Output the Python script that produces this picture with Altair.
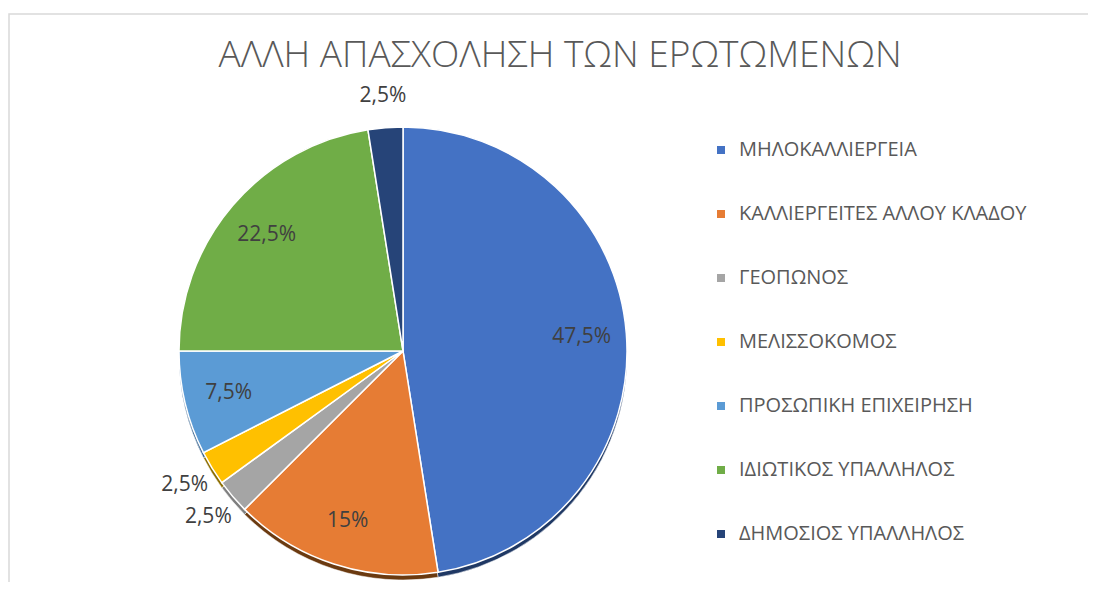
import altair as alt
import pandas as pd

categories = ["ΜΗΛΟΚΑΛΛΙΕΡΓΕΙΑ", "ΚΑΛΛΙΕΡΓΕΙΤΕΣ ΑΛΛΟΥ ΚΛΑΔΟΥ", "ΓΕΟΠΩΝΟΣ",
              "ΜΕΛΙΣΣΟΚΟΜΟΣ", "ΠΡΟΣΩΠΙΚΗ ΕΠΙΧΕΙΡΗΣΗ", "ΙΔΙΩΤΙΚΟΣ ΥΠΑΛΛΗΛΟΣ",
              "ΔΗΜΟΣΙΟΣ ΥΠΑΛΛΗΛΟΣ"]
values = [47.5, 15, 2.5, 2.5, 7.5, 22.5, 2.5]
colors = ["#4472C4", "#E67C34", "#A5A5A5", "#FFC000", "#5B9BD5", "#70AD47", "#264478"]
shadow_colors = ["#1F3864", "#6B3A10", "#7F7F7F", "#8C6D00", "#2E5C8A", "#3F6B26", "#13233F"]
title_text = "ΑΛΛΗ ΑΠΑΣΧΟΛΗΣΗ ΤΩΝ ΕΡΩΤΩΜΕΝΩΝ"

labels = [(f"{v:g}".replace(".", ",") + "%") for v in values]
df = pd.DataFrame({"cat": categories, "value": values, "label": labels,
                   "idx": list(range(len(values)))})

CX, CY, R = 395, 343, 224
FONT = "Open Sans, Noto Sans, sans-serif"

base = alt.Chart(df)

border = alt.Chart(pd.DataFrame({"a": [0]})).mark_rect(
    fill="white", stroke="#D9D9D9", strokeWidth=1.5
).encode(x=alt.value(1), x2=alt.value(1200), y=alt.value(6), y2=alt.value(700))

shadow = base.mark_arc(radius=R, stroke="white", strokeWidth=0.5).encode(
    theta=alt.Theta("value:Q", stack=True),
    order=alt.Order("idx:Q"),
    color=alt.Color("cat:N", scale=alt.Scale(domain=categories, range=shadow_colors), legend=None),
    x=alt.value(CX), y=alt.value(CY + 5),
)

pie = base.mark_arc(radius=R, stroke="white", strokeWidth=1.5).encode(
    theta=alt.Theta("value:Q", stack=True),
    order=alt.Order("idx:Q"),
    color=alt.Color("cat:N", sort=categories,
                    scale=alt.Scale(domain=categories, range=colors),
                    legend=alt.Legend(
                        title=None, orient="none", legendX=703, legendY=132,
                        symbolType="square", symbolSize=64, symbolStrokeWidth=0,
                        labelFontSize=20, labelFont=FONT,
                        labelColor="#595959", rowPadding=44, labelOffset=8,
                        labelLimit=420)),
    x=alt.value(CX), y=alt.value(CY),
)

text = base.transform_window(
    cum="sum(value)", sort=[alt.SortField("idx")]
).transform_joinaggregate(
    total="sum(value)"
).transform_calculate(
    ang="2 * PI * (datum.cum - datum.value / 2) / datum.total",
    rr=f"datum.value < 5 ? {R + 32} : {R * 0.8}",
).transform_calculate(
    px=f"{CX} + datum.rr * sin(datum.ang)",
    py=f"{CY} - datum.rr * cos(datum.ang)",
).mark_text(fontSize=21, font=FONT, color="#404040").encode(
    x=alt.X("px:Q", scale=None),
    y=alt.Y("py:Q", scale=None),
    text="label:N",
)

title = alt.Chart(pd.DataFrame({"t": [title_text]})).mark_text(
    fontSize=37, font=FONT, fontWeight=300, color="#595959"
).encode(text="t:N", x=alt.value(552), y=alt.value(48))

chart = alt.layer(border, shadow, pie, text, title).resolve_scale(
    color="independent"
).properties(
    width=1080, height=574, autosize="none", padding=0
).configure_view(stroke=None)

chart.save("out.html", embed_options={"renderer": "svg", "actions": False})
